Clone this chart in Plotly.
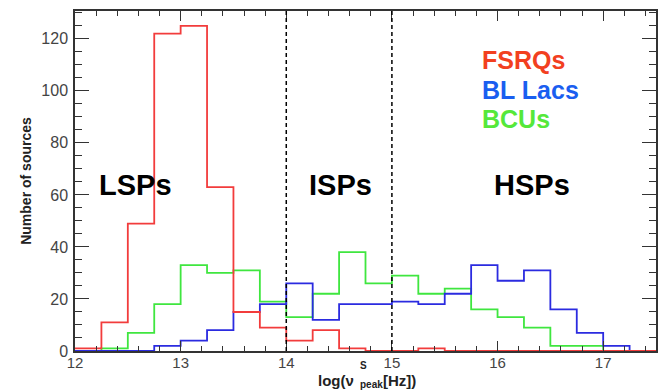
import plotly.graph_objects as go
import numpy as np

# bin edges (log nu_peak), width 0.25
bin_edges = [12.0 + 0.25 * i for i in range(23)]
fsrq = [1, 11, 49, 122, 125, 63, 15, 9, 4, 8, 1, 0, 0, 1, 0, 0, 0, 0, 0, 0, 0, 0]
bllac = [0, 0, 0, 2, 4, 8, 15, 18, 26, 12, 18, 18, 19, 18, 22, 33, 27, 31, 16, 7, 2, 0]
bcu = [0, 1, 7, 18, 33, 30, 31, 19, 13, 22, 38, 26, 29, 22, 24, 16, 13, 9, 2, 2, 0, 0]

series_names = ["FSRQs", "BL Lacs", "BCUs"]
line_colors = ["#f23c3c", "#2b2be0", "#3fe63f"]
label_colors = ["#f2401f", "#1a5ef0", "#55e83a"]

class_labels = ["LSPs", "ISPs", "HSPs"]
class_x = [12.575, 14.515, 16.33]
class_y = 64
boundaries = [14, 15]

FONT = "Liberation Sans, Arial, sans-serif"

fig = go.Figure()
for vals, col, name in zip([bcu, bllac, fsrq], [line_colors[2], line_colors[1], line_colors[0]],
                           ["BCUs", "BL Lacs", "FSRQs"]):
    fig.add_trace(go.Scatter(
        x=bin_edges, y=list(vals) + [vals[-1]], mode="lines",
        line=dict(shape="hv", color=col, width=1.8), name=name, showlegend=False,
        hoverinfo="skip"))

for b in boundaries:
    fig.add_shape(type="line", xref="x", yref="paper", x0=b, x1=b, y0=0, y1=1,
                  line=dict(color="black", width=1.5, dash="4px,3px"))

for lab, cx in zip(class_labels, class_x):
    fig.add_annotation(x=cx, y=class_y, xref="x", yref="y", text=f"<b>{lab}</b>",
                       showarrow=False, font=dict(family=FONT, size=29, color="black"),
                       xanchor="center", yanchor="middle")

leg_y = [112, 100.5, 89]
for name, col, ly in zip(series_names, label_colors, leg_y):
    fig.add_annotation(x=15.83, y=ly, xref="x", yref="y", text=f"<b>{name}</b>",
                       showarrow=False, font=dict(family=FONT, size=25, color=col),
                       xanchor="left", yanchor="middle")

# x-axis title built from pieces (stacked super/subscript)
W, H, L, B = 583, 340, 75, 39
def px2paper(px, py):
    return (px - L) / W, (390 - B - py) / H
ax, ay = px2paper(357, 380)
fig.add_annotation(x=ax, y=ay, xref="paper", yref="paper", text="<b>log(ν</b>", showarrow=False,
                   xanchor="right", yanchor="middle", font=dict(family=FONT, size=15, color="#222"))
ax, ay = px2paper(359, 365)
fig.add_annotation(x=ax, y=ay, xref="paper", yref="paper", text="<b>S</b>", showarrow=False,
                   xanchor="left", yanchor="middle", font=dict(family=FONT, size=10, color="#222"))
ax, ay = px2paper(359, 384)
fig.add_annotation(x=ax, y=ay, xref="paper", yref="paper", text="<b>peak</b>", showarrow=False,
                   xanchor="left", yanchor="middle", font=dict(family=FONT, size=10, color="#222"))
ax, ay = px2paper(382, 380)
fig.add_annotation(x=ax, y=ay, xref="paper", yref="paper", text="<b>[Hz])</b>", showarrow=False,
                   xanchor="left", yanchor="middle", font=dict(family=FONT, size=15, color="#222"))

axis_common = dict(showline=True, linecolor="#333", linewidth=1.5, mirror="ticks",
                   ticks="inside", tickcolor="#333", tickwidth=1.3, showgrid=False,
                   zeroline=False)
fig.update_xaxes(range=[12, 17.5], dtick=1, tick0=12, ticklen=10, ticklabelstandoff=-3,
                 minor=dict(dtick=0.2, tick0=12, ticks="inside", ticklen=5, tickcolor="#333", tickwidth=1.1),
                 tickfont=dict(family=FONT, size=15, color="#444"), **axis_common)
fig.update_yaxes(range=[0, 130.7], dtick=20, tick0=0, ticklen=14, ticklabelstandoff=2,
                 minor=dict(dtick=5, tick0=0, ticks="inside", ticklen=7, tickcolor="#333", tickwidth=1.1),
                 tickfont=dict(family=FONT, size=16, color="#444"),
                 title=dict(text="<b>Number of sources</b>", font=dict(family=FONT, size=14, color="#222"),
                            standoff=6),
                 **axis_common)

fig.update_layout(width=664, height=390, margin=dict(l=75, r=6, t=11, b=39),
                  plot_bgcolor="white", paper_bgcolor="white", showlegend=False)

fig.write_html("out.html")
